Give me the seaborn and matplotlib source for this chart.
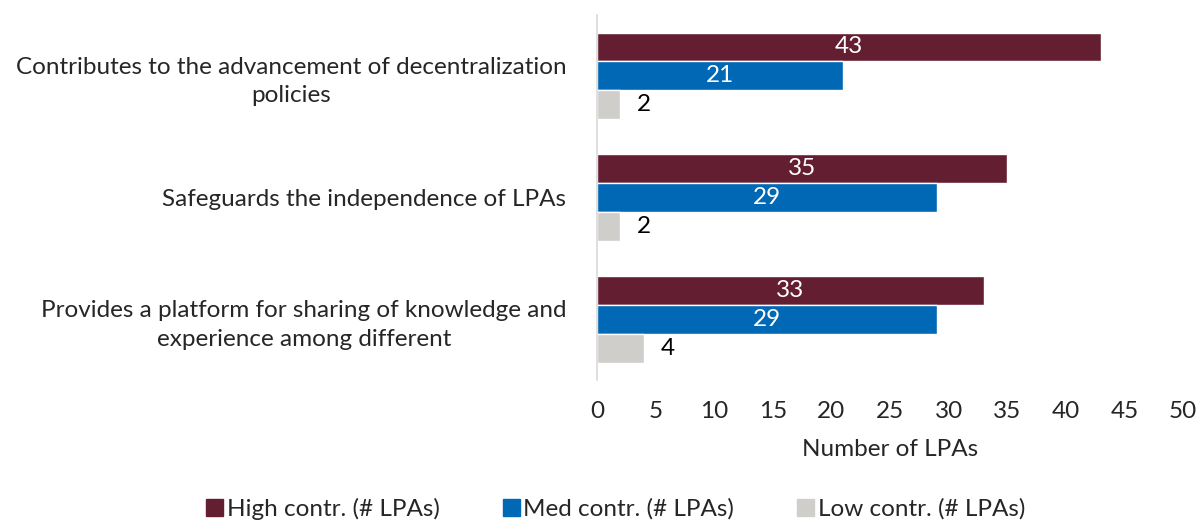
import pandas as pd
import numpy as np
import matplotlib.pyplot as plt
import seaborn as sns

categories = ["Contributes to the advancement of decentralization\npolicies",
              "Safeguards the independence of LPAs",
              "Provides a platform for sharing of knowledge and\nexperience among different"]
series = ["High contr. (# LPAs)", "Med contr. (# LPAs)", "Low contr. (# LPAs)"]
high = [43, 35, 33]
med = [21, 29, 29]
low = [2, 2, 4]
colors = ["#641E32", "#0068B5", "#D0CECB"]

rows = []
for name, vals in zip(series, [high, med, low]):
    for c, v in zip(categories, vals):
        rows.append({"cat": c, "series": name, "val": v})
df = pd.DataFrame(rows)

sns.set_style("white")
plt.rcParams['font.family'] = ['Lato', 'DejaVu Sans']
fs = 17.5

fig = plt.figure(figsize=(12, 5.31), dpi=100)
ax = fig.add_axes([0.4975, 0.284, 0.4885, 0.688])
sns.barplot(data=df, x="val", y="cat", hue="series", palette=colors,
            orient="h", width=0.71, saturation=1, ax=ax, legend=False)

for i, cont in enumerate(ax.containers):
    if i < 2:
        ax.bar_label(cont, label_type="center", color="white", fontsize=fs)
    else:
        ax.bar_label(cont, padding=12, color="black", fontsize=fs)

ax.set_xlim(0, 50)
ax.set_xticks(np.arange(0, 51, 5))
ax.set_xlabel("Number of LPAs", fontsize=fs, labelpad=12)
ax.set_ylabel("")
ax.tick_params(axis="x", labelsize=fs, length=0, pad=15)
ax.tick_params(axis="y", labelsize=fs, length=0, pad=22)
for t in ax.get_yticklabels():
    t.set_multialignment("center")
    t.set_linespacing(1.45)
for s in ["top", "right", "bottom"]:
    ax.spines[s].set_visible(False)
ax.spines["left"].set_color("#D9D9D9")
ax.spines["left"].set_linewidth(1.2)

handles = [plt.Rectangle((0, 0), 1, 1, color=c) for c in colors]
fig.legend(handles, series, loc="lower center", bbox_to_anchor=(0.513, -0.02),
           ncol=3, frameon=False, fontsize=fs, handlelength=0.7, handleheight=0.7,
           handletextpad=0.15, columnspacing=2.6)

fig.savefig("out.png", dpi=100)
